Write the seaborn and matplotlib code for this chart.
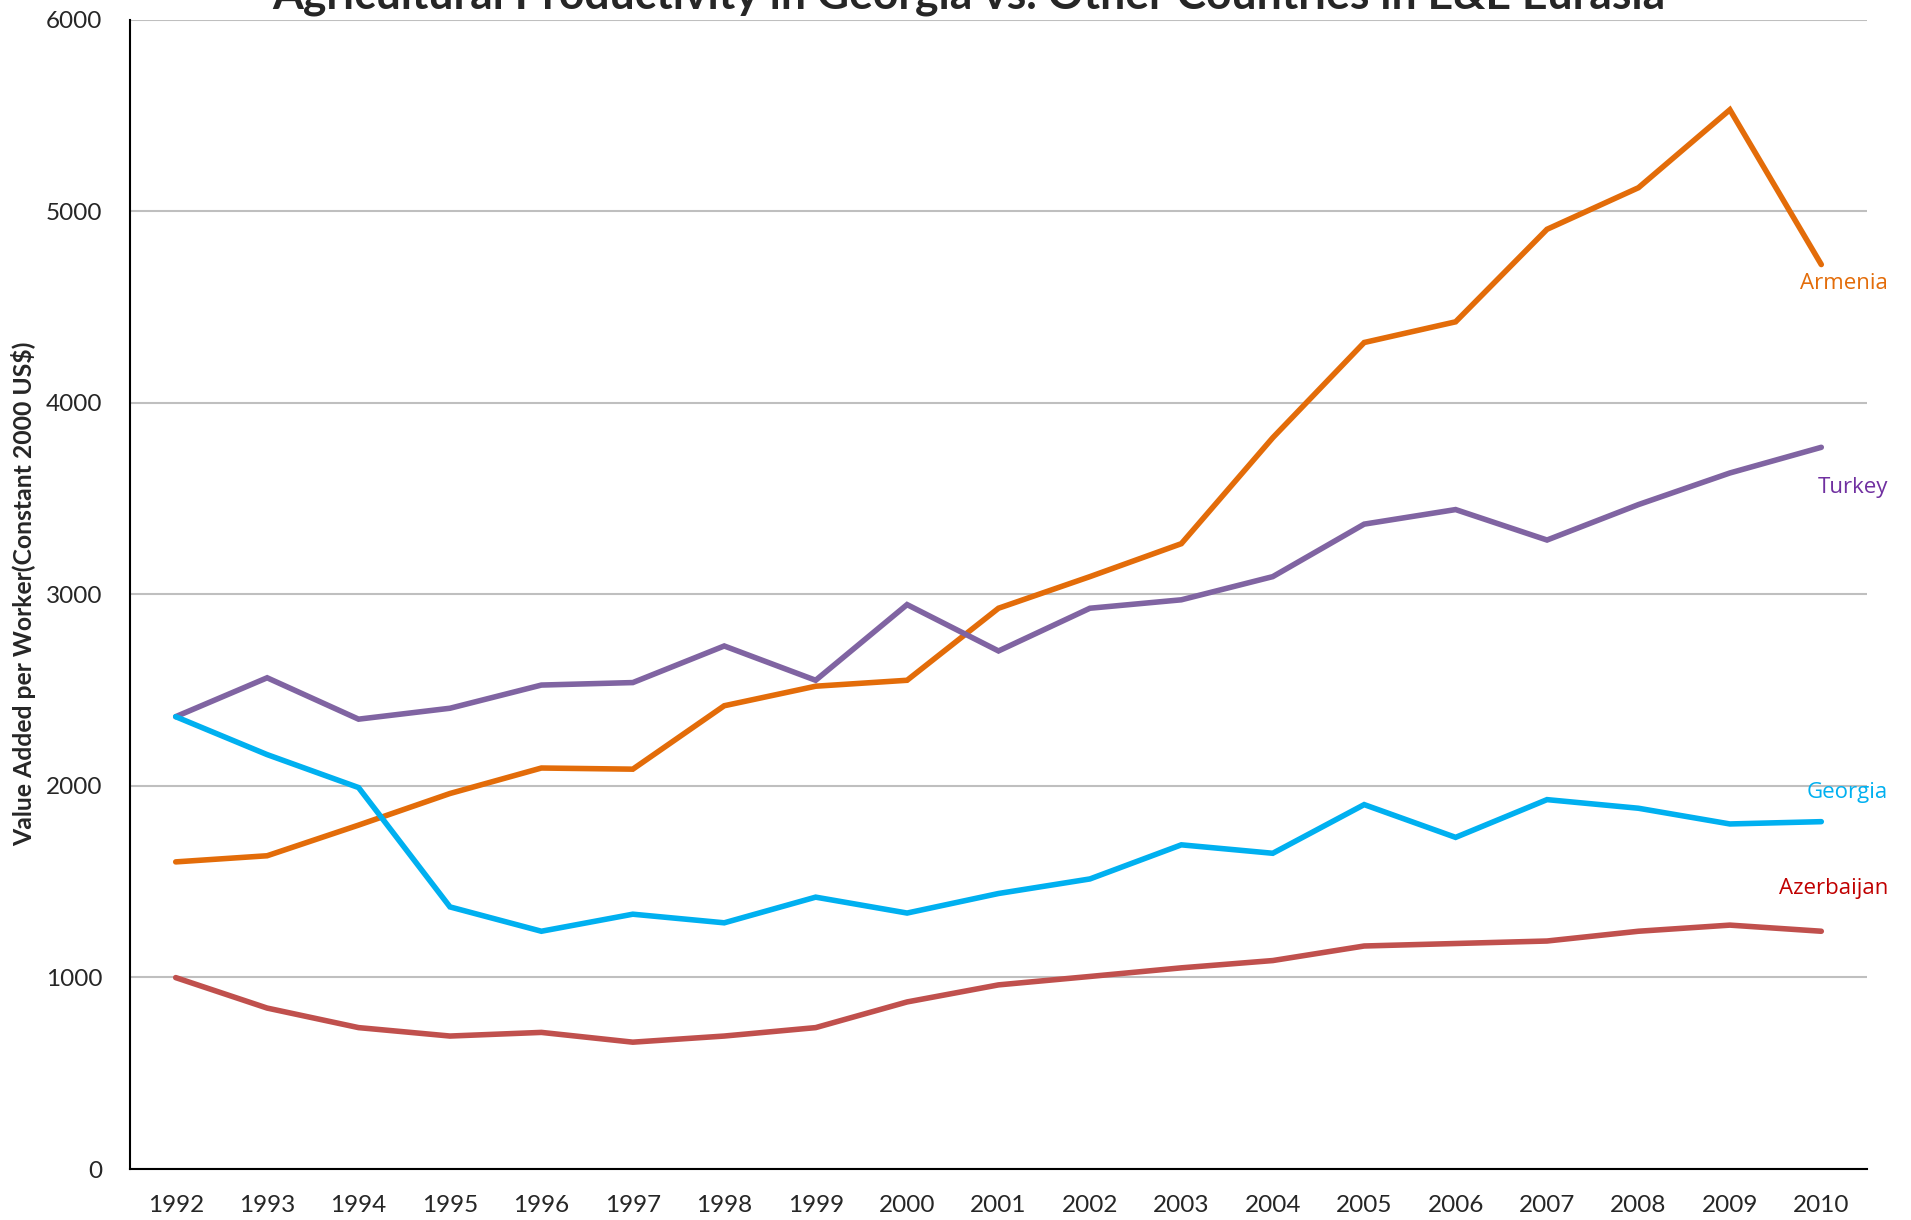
import numpy as np
import pandas as pd
import matplotlib
matplotlib.use("Agg")
import matplotlib.pyplot as plt
import seaborn as sns

years = [str(y) for y in range(1992, 2011)]
armenia = [1603, 1635, 1795, 1960, 2093, 2087, 2418, 2520, 2551, 2927, 3092, 3264,
           3817, 4314, 4422, 4905, 5122, 5529, 4721]
turkey = [2361, 2564, 2348, 2405, 2526, 2539, 2730, 2551, 2946, 2704, 2927, 2971,
          3092, 3366, 3442, 3283, 3468, 3633, 3767]
georgia = [2361, 2163, 1991, 1368, 1241, 1330, 1285, 1419, 1336, 1438, 1514, 1692,
           1648, 1902, 1731, 1928, 1883, 1801, 1813]
azerbaijan = [999, 840, 738, 694, 713, 662, 694, 738, 872, 961, 1005, 1050,
              1088, 1164, 1177, 1190, 1241, 1273, 1241]
countries = ["Armenia", "Turkey", "Georgia", "Azerbaijan"]
line_colors = {"Armenia": "#E36C09", "Turkey": "#8064A2",
               "Georgia": "#00B0F0", "Azerbaijan": "#C0504D"}
label_colors = {"Armenia": "#E36C09", "Turkey": "#7030A0",
                "Georgia": "#00B0F0", "Azerbaijan": "#C00000"}
label_y = {"Armenia": 4620, "Turkey": 3557, "Georgia": 1966, "Azerbaijan": 1463}
title = "Agricultural Productivity in Georgia vs. Other Countries in E&E Eurasia"
ylabel = "Value Added per Worker(Constant 2000 US$)"

series = {"Armenia": armenia, "Turkey": turkey, "Georgia": georgia, "Azerbaijan": azerbaijan}
rows = []
for c in countries:
    for i, v in enumerate(series[c]):
        rows.append({"idx": i, "value": v, "country": c})
df = pd.DataFrame(rows)

sns.set_theme(style="white")
plt.rcParams["font.family"] = ["Lato", "DejaVu Sans"]

fig = plt.figure(figsize=(19.11, 12.2), dpi=100)
ax = fig.add_axes([130/1911, 51/1220, (1867-130)/1911, (1169-19.5)/1220])

sns.lineplot(data=df, x="idx", y="value", hue="country", hue_order=countries,
             palette=line_colors, linewidth=4.0, legend=False, ax=ax,
             solid_capstyle="round", solid_joinstyle="miter")

ax.set_xlim(-0.5, len(years) - 0.5)
ax.set_ylim(0, 6000)
ax.set_yticks(np.arange(0, 6001, 1000))
ax.yaxis.grid(True, color="#BFBFBF", linewidth=1.5)
ax.set_axisbelow(True)

ax.set_xticks(np.arange(-0.5, len(years), 1.0))
ax.set_xticklabels([])
ax.set_xticks(np.arange(len(years)), minor=True)
ax.set_xticklabels(years, minor=True)
ax.tick_params(axis="x", which="major", length=8, width=1.5, color="black", direction="out")
ax.tick_params(axis="x", which="minor", length=0, pad=19, labelsize=17.5)
ax.tick_params(axis="y", which="major", length=8, width=1.5, color="black",
               direction="out", labelsize=17.5, pad=12)
ax.set_xlabel("")
ax.set_ylabel(ylabel, fontsize=17.8, fontweight="bold", labelpad=7)

for s in ["top", "right"]:
    ax.spines[s].set_visible(False)
for s in ["left", "bottom"]:
    ax.spines[s].set_color("black")
    ax.spines[s].set_linewidth(1.5)

for c in countries:
    ax.text(18.73, label_y[c], c, color=label_colors[c], fontsize=16,
            ha="right", va="center", family=["Open Sans", "DejaVu Sans"])

fig.text(969/1911, 1 - 9/1220, title, ha="center", va="baseline",
         fontsize=32, fontweight="bold")

fig.savefig("out.png", dpi=100)
